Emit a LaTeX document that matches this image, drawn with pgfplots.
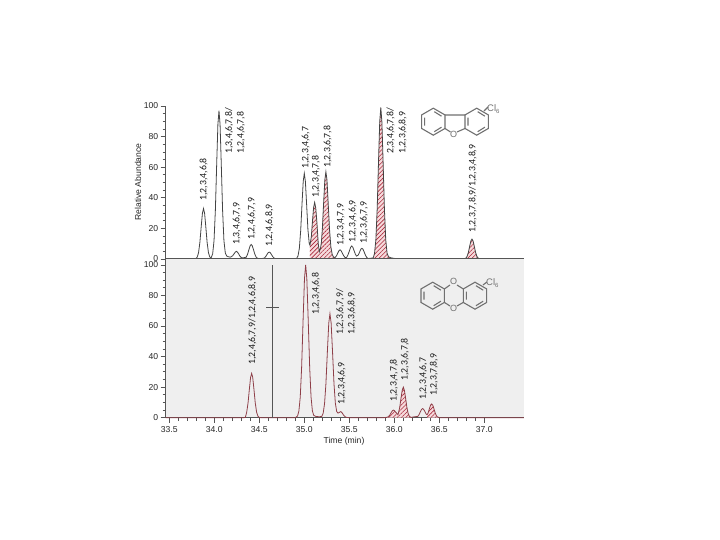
\documentclass[border=0pt]{standalone}
\usepackage{fontspec}
\setmainfont{Liberation Sans}
\newfontfamily\lab{Carlito}
\usepackage{pgfplots}
\usepackage{pgfplotstable}
\pgfplotsset{compat=1.18}
\usetikzlibrary{patterns.meta}
\definecolor{axc}{HTML}{555555}
\definecolor{bgc}{HTML}{EFEFEF}
\definecolor{redc}{HTML}{8E3F48}
\definecolor{hatc}{HTML}{A8283A}
\definecolor{pinkc}{HTML}{F6DADC}
\definecolor{topc}{HTML}{444444}
\definecolor{molc}{HTML}{707070}
\pgfplotstableread{
t v
33.46 0
33.78 0
33.795 .2
33.81 1.2
33.825 4.1
33.84 11
33.855 21.5
33.868 29.9
33.88 33
33.892 29.9
33.905 21.5
33.92 11
33.935 4.1
33.95 1.3
33.965 .8
33.982 3.4
33.997 12
34.012 32
34.027 63
34.04 88
34.052 97
34.064 88
34.077 63
34.092 32
34.107 12
34.122 4
34.137 2
34.155 1.5
34.175 1.2
34.19 1.5
34.205 2.2
34.22 3.4
34.233 4.5
34.245 5
34.257 4.5
34.27 3.4
34.285 1.8
34.30 .9
34.32 .7
34.355 1.2
34.37 3.2
34.385 6.2
34.398 8.6
34.41 9.5
34.422 8.6
34.435 6.2
34.45 3.2
34.465 1.2
34.48 .5
34.50 .1
34.53 .3
34.555 .6
34.57 1.5
34.585 2.9
34.598 4.1
34.61 4.5
34.622 4.1
34.635 2.9
34.65 1.5
34.665 .6
34.68 .15
34.70 0
34.88 0
34.915 .4
34.93 2
34.945 7
34.96 18.7
34.975 36.5
34.988 50.7
35.00 56
35.012 50.7
35.025 36.5
35.04 19.5
35.055 10
35.063 9
35.078 14.5
35.09 24
35.103 33.5
35.115 37
35.127 33.5
35.14 24
35.155 10
35.167 4.8
35.18 7
35.19 11
35.2 19
35.215 37
35.228 51.6
35.24 57
35.252 51.6
35.265 37
35.28 19.5
35.295 8
35.31 3
35.325 1.2
35.342 1
35.357 2
35.372 3.9
35.385 5.4
35.397 6
35.409 5.4
35.422 3.9
35.437 2.2
35.452 1
35.465 .9
35.472 1.2
35.487 2.9
35.502 5.5
35.515 7.7
35.527 8.5
35.539 7.7
35.552 5.6
35.567 3.2
35.58 1.9
35.6 2.6
35.615 4.6
35.628 6.4
35.64 7
35.652 6.4
35.665 4.6
35.68 2.4
35.695 .9
35.71 .3
35.74 .5
35.765 .7
35.78 3.5
35.795 12.4
35.81 33
35.825 64.5
35.838 89.7
35.85 99
35.862 89.7
35.875 64.5
35.89 33
35.905 12.4
35.92 3.7
35.935 1.5
35.96 .8
36.0 .4
36.03 0
36.75 0
36.78 .1
36.793 .5
36.808 1.6
36.823 4.3
36.838 8.5
36.851 11.8
36.863 13
36.875 11.8
36.888 8.5
36.903 4.3
36.918 1.6
36.933 .5
36.95 .1
36.97 0
37.44 0
}\toptable
\pgfplotstableread{
t v
33.46 0
34.33 0
34.345 .2
34.36 3.6
34.375 9.7
34.39 18.9
34.403 26.3
34.415 29
34.427 26.3
34.44 18.9
34.455 9.7
34.47 3.6
34.485 1
34.5 .2
34.52 0
34.9 0
34.925 1.1
34.94 4.4
34.955 13.5
34.97 32.5
34.987 64.7
35.002 91
35.015 100
35.028 91
35.043 64.7
35.06 32.5
35.075 13.5
35.09 4.4
35.105 1.5
35.13 .8
35.17 .6
35.195 .9
35.21 3
35.225 9.2
35.24 22
35.257 44
35.272 62
35.285 68
35.298 62
35.313 44
35.33 22
35.345 9.5
35.36 4
35.375 3
35.39 3.5
35.405 4
35.42 3.2
35.435 1.8
35.45 .8
35.47 .2
35.5 0
35.88 0
35.92 .3
35.935 .7
35.95 1.7
35.965 3.3
35.978 4.5
35.99 5
36.002 4.6
36.015 3.6
36.03 2.7
36.04 2
36.045 2.8
36.06 6.7
36.075 13
36.088 18
36.1 20
36.112 18
36.125 13
36.14 6.7
36.155 2.5
36.17 .7
36.19 .2
36.22 .6
36.26 .8
36.275 2
36.29 3.9
36.303 5.4
36.315 6
36.327 5.4
36.34 4
36.355 2.3
36.365 2
36.375 3
36.39 5.9
36.403 8.2
36.415 9
36.427 8.2
36.44 5.9
36.455 3
36.47 1.1
36.485 .3
36.51 0
37.44 0
}\bottable
\pgfplotsset{
 chrom/.style={
  scale only axis, width=358.2bp, xmin=33.46, xmax=37.44, ymin=0,
  axis lines=left, axis line style={-,draw=axc,line width=.9pt},
  tick style={draw=axc,line width=.7pt}, tick align=outside,
  major tick length=5bp, minor tick length=3bp,
  ytick={0,20,40,60,80,100}, minor ytick={5,10,15,25,30,35,45,50,55,65,70,75,85,90,95},
  tick label style={font=\fontsize{8.6bp}{10bp}\selectfont, text=black!85},
  /pgf/number format/assume math mode=true,
  y tick label style={xshift=1bp},
  clip=false,
 },
 hatch/.style={draw=none, pattern={Lines[angle=45,distance=3pt,line width=.6pt]}, pattern color=hatc, forget plot},
 pink/.style={draw=none, fill=pinkc, forget plot},
}
\newcommand{\vlab}[3]{\node[rotate=90,anchor=west,inner sep=0pt,font=\lab\fontsize{9.8bp}{11bp}\selectfont,text=black!90] at (#1,#2) {#3};}
\newcommand{\hexring}[2]{%
 \draw[molc,line width=1.1pt] (#1,#2-13.5) -- (#1+11.7,#2-6.75) -- (#1+11.7,#2+6.75) -- (#1,#2+13.5) -- (#1-11.7,#2+6.75) -- (#1-11.7,#2-6.75) -- cycle;
 \draw[molc,line width=1.1pt] (#1-8.7,#2-4) -- (#1-8.7,#2+4) (#1+1,#2-10) -- (#1+8.2,#2-5.5) (#1+1,#2+10) -- (#1+8.2,#2+5.5);
}
\begin{document}
\begin{tikzpicture}
\path[use as bounding box,fill=white] (0,0) rectangle (720bp,540bp);
\begin{axis}[chrom, at={(165.7bp,281bp)}, anchor=south west, height=153bp, ymax=100, xtick=\empty]
\addplot[pink, restrict x to domain=35.063:35.167] table[x=t,y=v] {\toptable} \closedcycle;
\addplot[pink, restrict x to domain=35.167:35.342] table[x=t,y=v] {\toptable} \closedcycle;
\addplot[pink, restrict x to domain=35.765:35.96] table[x=t,y=v] {\toptable} \closedcycle;
\addplot[pink, restrict x to domain=36.793:36.933] table[x=t,y=v] {\toptable} \closedcycle;
\addplot[hatch, restrict x to domain=35.063:35.167] table[x=t,y=v] {\toptable} \closedcycle;
\addplot[hatch, restrict x to domain=35.167:35.342] table[x=t,y=v] {\toptable} \closedcycle;
\addplot[hatch, restrict x to domain=35.765:35.96] table[x=t,y=v] {\toptable} \closedcycle;
\addplot[hatch, restrict x to domain=36.793:36.933] table[x=t,y=v] {\toptable} \closedcycle;
\addplot[topc, line width=.8pt] table[x=t,y=v] {\toptable};
\addplot[axc, line width=1.2pt] coordinates {(33.46,0) (37.44,0)};
\end{axis}
\begin{axis}[chrom, at={(165.7bp,122.3bp)}, anchor=south west, height=158.5bp, ymax=103.7,
  axis background/.style={fill=bgc},
  xtick={33.5,34,34.5,35,35.5,36,36.5,37}, minor x tick num=4,
  xticklabel style={/pgf/number format/fixed,/pgf/number format/fixed zerofill,/pgf/number format/precision=1}]
\addplot[pink, restrict x to domain=35.92:36.04] table[x=t,y=v] {\bottable} \closedcycle;
\addplot[pink, restrict x to domain=36.04:36.19] table[x=t,y=v] {\bottable} \closedcycle;
\addplot[pink, restrict x to domain=36.365:36.51] table[x=t,y=v] {\bottable} \closedcycle;
\addplot[hatch, restrict x to domain=35.92:36.04] table[x=t,y=v] {\bottable} \closedcycle;
\addplot[hatch, restrict x to domain=36.04:36.19] table[x=t,y=v] {\bottable} \closedcycle;
\addplot[hatch, restrict x to domain=36.365:36.51] table[x=t,y=v] {\bottable} \closedcycle;
\addplot[redc, line width=.8pt] table[x=t,y=v] {\bottable};
\addplot[axc, line width=.9pt] coordinates {(34.645,0) (34.645,100)};
\addplot[axc, line width=.7pt] coordinates {(34.575,72.5) (34.715,72.5)};
\end{axis}
\begin{scope}[x=1bp,y=-1bp,yshift=540bp]
\node[rotate=90,font=\fontsize{8.6bp}{10bp}\selectfont,text=black!85] at (138,182) {Relative Abundance};
\node[font=\fontsize{8.6bp}{10bp}\selectfont,text=black!85] at (344,441) {Time (min)};
\vlab{203.7}{200.7}{1,2,3,4,6,8}
\vlab{229}{154}{1,3,4,6,7,8/}
\vlab{241}{154}{1,2,4,6,7,8}
\vlab{236.7}{245}{1,3,4,6,7,9}
\vlab{251.7}{240}{1,2,4,6,7,9}
\vlab{269.3}{246.7}{1,2,4,6,8,9}
\vlab{305.7}{169}{1,2,3,4,6,7}
\vlab{316}{198}{1,2,3,4,7,8}
\vlab{327.7}{168}{1,2,3,6,7,8}
\vlab{340.7}{246}{1,2,3,4,7,9}
\vlab{352.7}{242.7}{1,2,3,4,6,9}
\vlab{364}{244}{1,2,3,6,7,9}
\vlab{390.7}{154}{2,3,4,6,7,8/}
\vlab{402.7}{154}{1,2,3,6,8,9}
\vlab{472.7}{232.7}{1,2,3,7,8,9/1,2,3,4,8,9}
\vlab{252.3}{365}{1,2,4,6,7,9/1,2,4,6,8,9}
\vlab{316}{315}{1,2,3,4,6,8}
\vlab{340}{335}{1,2,3,6,7,9/}
\vlab{351.7}{335}{1,2,3,6,8,9}
\vlab{341.7}{405}{1,2,3,4,6,9}
\vlab{394}{401.7}{1,2,3,4,7,8}
\vlab{405}{380.7}{1,2,3,6,7,8}
\vlab{423.3}{400}{1,2,3,4,6,7}
\vlab{434}{396}{1,2,3,7,8,9}
% dibenzofuran
\hexring{433.3}{121.7}
\hexring{476.7}{121.7}
\draw[molc,line width=1.1pt] (445,115) -- (465,115) (445,128.5) -- (450.5,132) (457,132) -- (465,128.5) (484,111) -- (488,107);
\node[molc,font=\fontsize{9bp}{10bp}\selectfont,inner sep=0pt] at (453.7,134.8) {O};
\node[molc,font=\fontsize{9.5bp}{10bp}\selectfont,inner sep=0pt,anchor=west] at (487,109) {Cl\raisebox{-1.5bp}{\fontsize{6bp}{7bp}\selectfont 6}};
% dibenzodioxin
\hexring{432.7}{295.7}
\hexring{475}{295.7}
\draw[molc,line width=1.1pt] (444.4,289) -- (450,285) (457,285) -- (463.3,289) (444.4,302.4) -- (450,306) (457,306) -- (463.3,302.4) (483,285) -- (487,282);
\node[molc,font=\fontsize{9bp}{10bp}\selectfont,inner sep=0pt] at (453.5,281.5) {O};
\node[molc,font=\fontsize{9bp}{10bp}\selectfont,inner sep=0pt] at (453.5,308) {O};
\node[molc,font=\fontsize{9.5bp}{10bp}\selectfont,inner sep=0pt,anchor=west] at (486,283) {Cl\raisebox{-1.5bp}{\fontsize{6bp}{7bp}\selectfont 6}};
\end{scope}
\end{tikzpicture}
\end{document}
